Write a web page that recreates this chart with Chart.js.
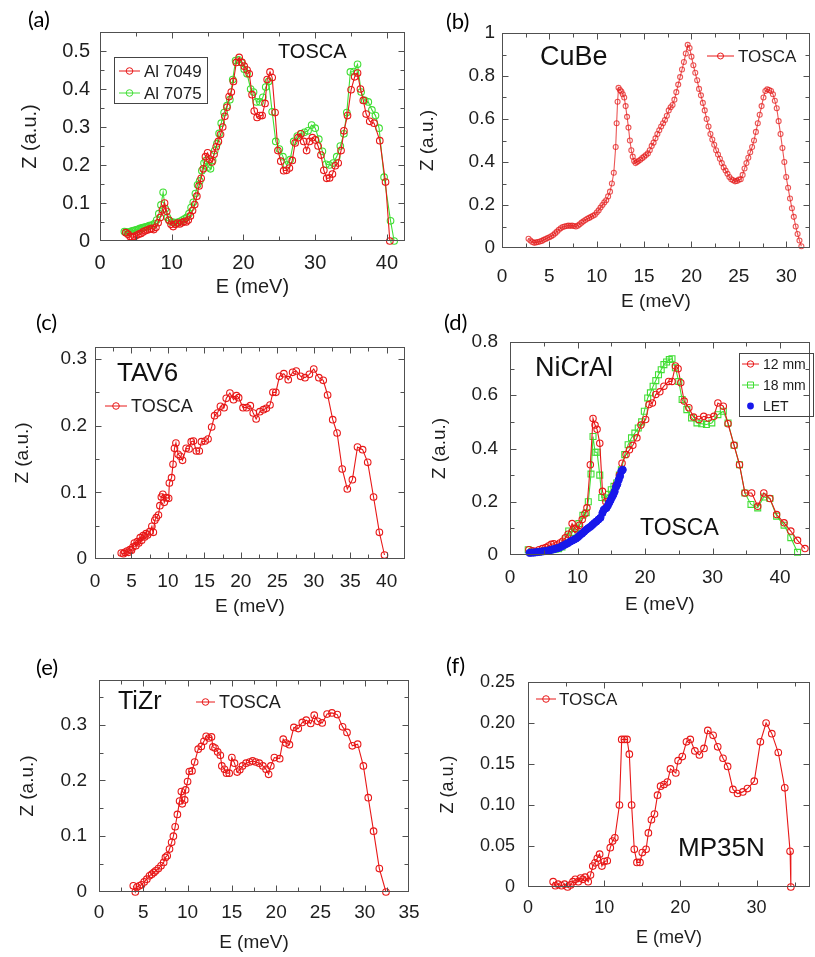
<!DOCTYPE html>
<html>
<head>
<meta charset="utf-8">
<script src="https://cdn.jsdelivr.net/npm/chart.js@4.4.0/dist/chart.umd.min.js"></script>
<style>
  body { margin: 0; background: #fff; width: 815px; height: 957px; position: relative; overflow: hidden; }
  canvas { position: absolute; }
  .tag { position: absolute; font-family: Lato, "Open Sans", sans-serif; font-size: 22px; line-height: 1; color: #000; }
</style>
</head>
<body>
<canvas id="pa" width="410" height="305" style="left:0px;top:0px"></canvas>
<canvas id="pb" width="405" height="315" style="left:410px;top:0px"></canvas>
<canvas id="pc" width="410" height="320" style="left:0px;top:305px"></canvas>
<canvas id="pd" width="405" height="320" style="left:410px;top:305px"></canvas>
<canvas id="pe" width="430" height="317" style="left:0px;top:640px"></canvas>
<canvas id="pf" width="385" height="317" style="left:430px;top:640px"></canvas>
<div class="tag" style="left:28px;top:8px">(a)</div>
<div class="tag" style="left:446px;top:10px">(b)</div>
<div class="tag" style="left:36px;top:311px">(c)</div>
<div class="tag" style="left:444px;top:311px">(d)</div>
<div class="tag" style="left:36px;top:656px">(e)</div>
<div class="tag" style="left:446px;top:654px">(f)</div>
<script>

// (a) Al alloys, TOSCA
var al7049E = [3.6,3.9,4.2,4.5,4.8,5.1,5.4,5.7,6.0,6.3,6.6,6.9,7.2,7.5,7.8,8.1,8.4,8.7,9.0,
  9.3,9.6,9.9,10.2,10.5,10.8,11.1,11.4,11.7,12.0,12.3,12.6,12.9,13.2,13.5,13.8,14.1,14.4,14.7,15.0,15.3,15.6,15.9,16.2,16.5,16.8,17.1,17.4,17.7,18.0,18.3,18.6,
  19.0,19.4,19.8,20.1,20.5,20.8,21.2,21.5,21.9,22.3,22.6,23.0,23.3,23.7,24.0,24.4,24.8,25.2,25.6,26.0,26.4,26.8,27.2,27.6,28.0,28.4,28.8,29.2,29.6,30.0,30.4,30.8,31.2,31.6,32.0,32.4,32.8,33.2,33.6,34.0,
  34.5,35.0,35.5,35.9,36.3,36.7,37.1,37.6,38.2,39.0,39.8,40.4];
var al7049Z = [.022,.018,.012,.010,.012,.015,.018,.020,.024,.027,.029,.031,.033,.030,.036,.048,.062,.082,.100,
  .078,.055,.044,.038,.044,.047,.045,.048,.051,.050,.055,.066,.080,.096,.118,.145,.165,.190,.222,.232,.215,.208,.228,.248,.262,.280,.300,.328,.352,.380,.392,.420,
  .470,.483,.470,.460,.450,.440,.385,.342,.325,.330,.330,.362,.425,.445,.430,.338,.238,.210,.185,.186,.192,.212,.258,.272,.282,.262,.238,.262,.272,.266,.250,.226,.186,.165,.166,.176,.198,.205,.238,.290,
  .330,.398,.432,.442,.400,.370,.334,.315,.310,.264,.155,0];
var al7075E = [3.4,3.6,3.8,4.0,4.2,4.4,4.6,4.8,5.0,5.2,5.4,5.6,5.8,6.0,6.2,6.4,6.6,6.8,7.0,
  7.3,7.6,7.9,8.2,8.5,8.8,9.1,9.4,9.7,10.0,10.3,10.6,10.9,11.2,11.5,11.8,12.1,12.4,12.7,13.0,13.3,13.6,13.9,14.2,14.5,14.8,15.1,15.4,15.7,16.0,16.3,16.6,16.9,
  17.3,17.7,18.1,18.5,18.9,19.3,19.7,20.1,20.5,
  21.0,21.4,21.8,22.3,22.7,23.1,23.5,24.0,
  24.5,25.0,25.5,26.0,26.5,27.0,27.5,28.0,28.5,29.0,29.5,30.0,30.5,31.0,31.5,32.0,32.5,33.0,33.5,34.0,
  34.4,34.9,35.4,35.9,36.4,36.9,37.4,37.9,38.4,38.9,39.6,40.5,41.0];
var al7075Z = [.025,.024,.023,.022,.024,.026,.027,.028,.029,.030,.031,.033,.034,.035,.036,.037,.038,.040,.041,
  .042,.046,.055,.072,.095,.128,.085,.062,.053,.050,.049,.048,.050,.052,.055,.058,.062,.072,.088,.102,.125,.148,.158,.185,.205,.212,.195,.190,.212,.238,.256,.283,.310,
  .338,.356,.372,.425,.475,.477,.470,.452,.440,
  .400,.392,.366,.366,.378,.405,.420,.340,
  .262,.242,.222,.200,.214,.262,.276,.282,.286,.290,.305,.297,.268,.236,.202,.200,.205,.222,.250,.282,
  .338,.445,.446,.465,.392,.370,.366,.345,.330,.297,.168,.053,0];

// (b) CuBe
var cubeE = [2.8,3.0,3.2,3.4,3.6,3.8,4.0,4.2,4.4,4.6,4.8,5.0,5.2,5.4,5.6,5.8,6.0,6.2,6.4,6.6,6.8,7.0,7.2,7.4,7.6,7.8,8.0,8.2,8.4,8.6,8.8,9.0,9.2,9.4,9.6,9.8,10.0,10.2,10.4,10.6,10.8,11.0,11.2,11.4,11.6,11.8,12.0,
  12.1,12.2,12.3,
  12.45,12.6,12.75,12.9,13.05,13.2,13.35,13.5,13.65,13.8,13.95,14.1,14.25,
  14.4,14.6,14.8,15.0,15.2,15.4,15.6,15.8,16.0,16.2,16.4,16.6,16.8,17.0,17.2,17.4,17.6,17.8,18.0,18.2,18.4,18.6,18.8,19.0,19.2,19.4,19.6,19.8,20.0,20.2,
  20.4,20.6,20.8,21.0,21.2,21.4,21.6,21.8,22.0,22.2,22.4,22.6,22.8,23.0,23.2,23.4,23.6,23.8,24.0,24.2,24.4,24.6,24.8,25.0,25.2,25.4,25.6,25.8,26.0,26.2,
  26.4,26.6,26.8,27.0,27.2,27.4,27.6,27.8,28.0,28.2,28.4,28.6,28.8,29.0,29.2,29.4,29.6,29.8,30.0,30.2,30.4,30.6,30.8,31.0,31.2,31.4,31.6];
var cubeZ = [.043,.035,.028,.024,.026,.028,.030,.033,.038,.042,.046,.050,.055,.060,.068,.076,.085,.092,.098,.100,.102,.104,.103,.104,.102,.100,.104,.110,.118,.124,.130,.136,.140,.145,.150,.155,.165,.175,.188,.200,.212,.222,.240,.262,.300,.350,.470,
  .580,.680,.745,
  .735,.728,.715,.700,.660,.610,.560,.500,.455,.425,.405,.395,.400,
  .405,.410,.418,.425,.432,.440,.455,.475,.490,.510,.530,.548,.565,.580,.595,.615,.640,.655,.665,.690,.725,.760,.795,.830,.865,.905,.945,.930,.890,.850,
  .815,.780,.740,.710,.675,.640,.600,.565,.530,.505,.480,.455,.435,.415,.395,.375,.360,.345,.330,.320,.315,.310,.312,.318,.320,.340,.370,.395,.420,.445,
  .470,.500,.540,.580,.620,.660,.700,.730,.738,.735,.730,.715,.685,.650,.590,.530,.465,.400,.330,.280,.230,.185,.145,.100,.065,.035,.008];

// (c) TAV6
var tav6E = [3.6,3.9,4.1,4.4,4.6,4.8,5.0,5.2,5.4,5.6,5.8,6.0,6.2,6.4,6.6,6.8,7.0,7.2,7.5,7.8,
  8.0,8.2,8.4,8.7,8.9,9.1,9.3,9.5,9.8,10.1,10.2,10.5,10.7,10.9,11.1,11.4,11.7,12.0,12.5,12.9,
  13.2,13.5,13.9,14.3,14.6,15.1,15.5,16.0,16.4,16.8,17.2,17.7,18.0,18.5,19.0,19.4,19.7,20.3,20.8,21.3,
  21.7,22.1,22.6,23.1,23.5,24.0,24.4,24.8,25.3,25.9,26.5,27.1,27.6,28.2,28.8,29.4,30.0,30.7,31.3,31.9,
  32.6,33.2,33.9,34.6,35.3,36.0,36.7,37.4,38.2,39.0,39.7];
var tav6Z = [.009,.008,.010,.012,.010,.014,.013,.018,.024,.020,.026,.024,.032,.028,.035,.033,.038,.036,.041,.049,
  .040,.058,.062,.066,.080,.093,.097,.085,.092,.091,.114,.122,.142,.166,.174,.157,.154,.148,.166,.165,
  .176,.177,.162,.162,.176,.177,.180,.198,.215,.219,.229,.227,.241,.249,.239,.245,.242,.227,.227,.230,
  .219,.210,.221,.224,.226,.231,.250,.250,.274,.278,.269,.280,.282,.274,.272,.277,.285,.272,.268,.246,
  .209,.189,.135,.105,.119,.168,.164,.145,.093,.040,.006];

// (d) NiCrAl
var ni12E = [2.8,3.3,3.8,4.3,4.8,5.3,5.7,6.1,6.5,7.0,7.4,7.8,8.2,8.6,9.2,9.6,9.9,10.3,10.7,11.1,
  11.4,11.9,12.3,12.6,12.9,13.3,13.7,14.2,14.6,15.1,15.7,16.2,16.6,17.2,17.7,18.2,18.8,19.4,20.1,20.6,
  21.1,21.6,22.2,22.8,23.5,24.0,24.5,24.9,25.3,25.8,26.5,27.2,28.0,28.7,29.4,30.2,30.8,31.6,32.3,33.2,
  34.0,34.8,35.8,36.7,37.6,38.5,39.5,40.6,41.6,42.6,43.7];
var ni12Z = [.020,.016,.014,.020,.024,.028,.034,.040,.042,.038,.045,.052,.065,.078,.118,.100,.095,.112,.133,.155,
  .177,.339,.513,.488,.472,.420,.239,.200,.195,.220,.262,.300,.345,.377,.395,.412,.440,.488,.509,.565,
  .571,.603,.613,.634,.652,.652,.710,.700,.647,.578,.553,.518,.509,.521,.515,.521,.571,.559,.493,.412,
  .339,.233,.233,.183,.233,.212,.152,.121,.090,.055,.024];
var ni18E = [2.7,3.2,3.7,4.2,4.7,5.2,5.7,6.2,6.7,7.2,7.7,8.2,8.7,9.2,9.7,10.2,10.8,11.3,11.6,12.0,
  12.3,12.6,12.9,13.3,13.6,14.1,14.6,15.0,15.4,15.8,16.2,16.5,17.0,17.5,18.0,18.5,19.0,19.5,19.9,20.4,
  20.8,21.2,21.6,22.0,22.4,22.8,23.2,23.6,24.0,24.5,25.0,25.5,26.2,26.9,27.7,28.4,29.1,29.9,30.8,31.6,
  32.3,33.2,34.0,34.8,35.7,36.7,37.6,38.5,39.5,40.6,41.6,42.6];
var ni18Z = [.020,.012,.010,.012,.014,.016,.018,.020,.022,.024,.030,.060,.090,.085,.100,.118,.149,.159,.200,.304,
  .445,.386,.386,.300,.216,.214,.228,.245,.258,.270,.300,.320,.377,.414,.440,.458,.477,.500,.540,.590,
  .609,.634,.655,.677,.696,.715,.725,.734,.737,.703,.652,.584,.546,.515,.496,.493,.490,.496,.527,.540,
  .496,.412,.339,.233,.190,.177,.218,.212,.146,.112,.065,.010];
var letE = [2.9,3.2,3.5,3.8,4.1,4.4,4.7,5.0,5.3,5.6,5.9,6.2,6.5,6.8,7.1,7.4,7.7,8.0,8.3,8.6,
  8.9,9.2,9.5,9.8,10.1,10.4,10.7,11.0,11.3,11.6,11.9,12.2,12.5,12.8,13.1,13.4,13.7,
  13.9,14.1,14.3,14.5,14.7,14.9,15.1,15.3,15.5,15.7,15.9,16.1,16.3,16.5,16.7];
var letZ = [.008,.009,.009,.010,.011,.012,.013,.014,.015,.016,.018,.020,.022,.024,.026,.029,.033,.037,.041,.045,
  .050,.054,.058,.062,.068,.075,.081,.088,.095,.101,.106,.113,.120,.126,.133,.140,.158,
  .170,.174,.177,.186,.196,.206,.217,.226,.238,.255,.266,.282,.296,.315,.320];

// (e) TiZr
var tizrE = [3.87,4.1,4.3,4.56,4.8,5.1,5.4,5.7,5.96,6.2,6.4,6.7,7.0,7.3,7.5,7.7,7.96,8.2,8.4,8.6,
  8.85,9.1,9.3,9.4,9.67,9.78,10.0,10.2,10.5,10.8,11.2,11.55,11.85,12.1,12.4,12.7,12.86,13.1,13.4,13.7,
  13.87,14.17,14.4,14.7,15.0,15.3,15.6,15.9,16.2,16.6,17.0,17.35,17.7,18.1,18.5,18.86,19.15,19.4,19.8,20.4,
  20.8,21.1,21.5,22.0,22.5,22.95,23.4,23.9,24.3,24.7,25.2,25.75,26.3,26.9,27.5,28.0,28.6,29.2,29.85,30.4,
  31.0,31.65,32.4];
var tizrZ = [.011,0,.009,.011,.013,.018,.023,.029,.032,.035,.038,.042,.047,.053,.062,.065,.077,.089,.100,.117,
  .139,.163,.180,.158,.165,.183,.198,.216,.217,.233,.256,.261,.270,.279,.276,.278,.260,.258,.251,.245,
  .226,.220,.213,.213,.241,.231,.215,.219,.226,.231,.233,.235,.233,.231,.226,.220,.211,.226,.241,.239,
  .274,.267,.264,.295,.293,.304,.308,.302,.317,.306,.303,.319,.321,.318,.296,.286,.262,.265,.226,.169,
  .109,.042,0];

// (f) MP35N
var mpE = [3.3,3.6,3.95,4.4,4.8,5.2,5.6,5.9,6.2,6.6,6.9,7.2,7.5,7.9,8.2,8.5,8.8,9.1,9.4,9.7,
  10.0,10.4,10.8,11.1,11.4,12.0,12.3,12.65,13.0,13.3,13.6,13.95,14.3,14.7,15.0,15.5,15.8,16.2,16.6,17.0,
  17.4,17.85,18.3,18.7,19.4,19.7,20.25,20.8,21.3,21.9,22.5,23.1,23.6,24.3,24.9,25.6,26.2,26.9,27.5,28.2,
  28.8,29.7,30.5,31.25,32.0,32.85,33.7,34.4,34.5];
var mpZ = [.0065,.0015,.0035,.0015,.0035,0,.0025,.0065,.0093,.0065,.011,.0093,.012,.0065,.0145,.0255,.0295,.035,.040,.0255,
  .031,.032,.048,.056,.060,.100,.180,.180,.180,.162,.100,.046,.030,.030,.042,.046,.066,.082,.089,.112,
  .123,.125,.128,.144,.139,.154,.159,.177,.180,.166,.161,.169,.191,.185,.171,.157,.147,.119,.114,.116,
  .120,.129,.177,.200,.187,.164,.121,.0435,0];

var RED = 'rgb(232,24,24)';
var RED_B = 'rgba(228,30,30,0.75)';
var GREEN = 'rgb(64,222,52)';
var BLUE = 'rgb(24,24,235)';
var SANS = '"Liberation Sans", Arial, Helvetica, sans-serif';
var INK = '#1e1e1e';

function pts(E, Z) {
    return E.map(function (e, i) { return {x: e, y: Z[i]}; });
}

function lineSet(E, Z, color, r, shape) {
    return {
        data: pts(E, Z),
        borderColor: color,
        borderWidth: 1.1,
        pointStyle: shape || 'circle',
        pointRadius: r,
        pointBorderColor: color,
        pointBackgroundColor: 'rgba(0,0,0,0)',
        pointBorderWidth: 1.1,
        tension: 0,
        fill: false,
        clip: false
    };
}

function marker(ctx, kind, x, y, color, r) {
    ctx.beginPath();
    if (kind === 'rect') {
        ctx.rect(x - r, y - r, 2 * r, 2 * r);
    } else {
        ctx.arc(x, y, r, 0, Math.PI * 2);
    }
    if (kind === 'dot') {
        ctx.fillStyle = color;
        ctx.fill();
    } else {
        ctx.strokeStyle = color;
        ctx.stroke();
    }
}

// frame, inward ticks, legend and labels drawn on top of the plot
function framePlugin(p) {
    return {
        id: 'frame',
        afterDatasetsDraw: function (chart) {
            var ctx = chart.ctx, a = chart.chartArea;
            var xs = chart.scales.x, ys = chart.scales.y;
            ctx.save();
            ctx.strokeStyle = '#505050';
            ctx.lineWidth = 1;
            var l = Math.round(a.left) + 0.5, t = Math.round(a.top) + 0.5;
            var r = Math.round(a.right) - 0.5, b = Math.round(a.bottom) - 0.5;
            ctx.strokeRect(l, t, r - l, b - t);
            ctx.beginPath();
            var i, v, px, len;
            for (i = 1; i * p.x.minor < p.x.max - 0.01; i++) {
                v = i * p.x.minor;
                len = Math.abs(v / p.x.step - Math.round(v / p.x.step)) < 1e-6 ? 6 : 4;
                px = Math.round(xs.getPixelForValue(v)) + 0.5;
                ctx.moveTo(px, b); ctx.lineTo(px, b - len);
                ctx.moveTo(px, t); ctx.lineTo(px, t + len);
            }
            for (i = 1; i * p.y.minor < p.y.max - 0.001; i++) {
                v = i * p.y.minor;
                len = Math.abs(v / p.y.step - Math.round(v / p.y.step)) < 1e-6 ? 6 : 4;
                px = Math.round(ys.getPixelForValue(v)) + 0.5;
                ctx.moveTo(l, px); ctx.lineTo(l + len, px);
                ctx.moveTo(r, px); ctx.lineTo(r - len, px);
            }
            ctx.stroke();

            var ox = p.L, oy = p.T;
            if (p.legendBox) {
                var lb = p.legendBox;
                ctx.strokeStyle = '#444';
                ctx.strokeRect(lb[0] - ox + 0.5, lb[1] - oy + 0.5, lb[2] - lb[0], lb[3] - lb[1]);
            }
            (p.legend || []).forEach(function (e) {
                var y = e.y - oy;
                if (e.kind !== 'dot') {
                    ctx.strokeStyle = e.color;
                    ctx.beginPath();
                    ctx.moveTo(e.x1 - ox, y); ctx.lineTo(e.x2 - ox, y);
                    ctx.stroke();
                }
                marker(ctx, e.kind, (e.x1 + e.x2) / 2 - ox, y, e.color, e.r);
                ctx.fillStyle = INK;
                ctx.font = e.size + 'px ' + SANS;
                ctx.textAlign = 'left';
                ctx.textBaseline = 'middle';
                ctx.fillText(e.text, e.tx - ox, y + 1);
            });
            (p.notes || []).forEach(function (n) {
                ctx.fillStyle = '#111';
                ctx.font = n.size + 'px ' + SANS;
                ctx.textAlign = 'left';
                ctx.textBaseline = 'alphabetic';
                ctx.fillText(n.text, n.x - ox, n.y - oy);
            });
            ctx.restore();
        }
    };
}

function makePanel(p, datasets) {
    var cv = document.getElementById(p.id);
    var W = cv.width, H = cv.height;
    var fs = p.fs;
    var yW = p.area[0] - p.L;
    var xH = p.T + H - p.area[3];
    new Chart(cv.getContext('2d'), {
        type: 'line',
        data: {datasets: datasets},
        options: {
            responsive: false,
            animation: false,
            events: [],
            layout: {padding: {left: 0, top: p.area[1] - p.T, right: p.L + W - p.area[2], bottom: 0}},
            plugins: {legend: {display: false}, tooltip: {enabled: false}},
            scales: {
                x: {
                    type: 'linear',
                    min: 0,
                    max: p.x.max,
                    grid: {display: false, drawTicks: false},
                    border: {display: false},
                    ticks: {
                        stepSize: p.x.step, includeBounds: false, autoSkip: false, maxRotation: 0,
                        font: {family: SANS, size: fs}, color: INK,
                        padding: p.xtick - p.area[3] - 0.6 * fs
                    },
                    title: {
                        display: true, text: 'E (meV)', color: INK,
                        font: {family: SANS, size: fs},
                        padding: {top: 0, bottom: p.T + H - p.xtitle - 0.6 * fs}
                    },
                    afterFit: function (s) { s.height = xH; }
                },
                y: {
                    min: 0,
                    max: p.y.max,
                    grid: {display: false, drawTicks: false},
                    border: {display: false},
                    ticks: {
                        stepSize: p.y.step, includeBounds: false, autoSkip: false,
                        font: {family: SANS, size: fs}, color: INK,
                        padding: p.area[0] - p.yright,
                        callback: p.yfmt || undefined
                    },
                    title: {
                        display: true, text: 'Z (a.u.)', color: INK,
                        font: {family: SANS, size: fs},
                        padding: {top: p.ytitle - p.L - 0.6 * fs, bottom: 0}
                    },
                    afterFit: function (s) { s.width = yW; }
                }
            }
        },
        plugins: [framePlugin(p)]
    });
}

makePanel({
    id: 'pa', L: 0, T: 0, area: [100, 32, 406, 241], fs: 20,
    xtick: 263, xtitle: 287, yright: 90, ytitle: 30,
    x: {max: 42.5, step: 10, minor: 5}, y: {max: 0.55, step: 0.1, minor: 0.05},
    legendBox: [114, 57, 207, 103],
    legend: [
        {y: 71, x1: 119, x2: 140, tx: 144, text: 'Al 7049', color: RED, kind: 'circle', r: 3.3, size: 17},
        {y: 93, x1: 119, x2: 140, tx: 144, text: 'Al 7075', color: GREEN, kind: 'circle', r: 3.3, size: 17}
    ],
    notes: [{text: 'TOSCA', x: 278, y: 58, size: 20}]
}, [
    lineSet(al7049E, al7049Z, RED, 3.3),
    lineSet(al7075E, al7075Z, GREEN, 3.3)
]);

makePanel({
    id: 'pb', L: 410, T: 0, area: [502, 33, 813, 248], fs: 19,
    xtick: 277, xtitle: 302, yright: 495, ytitle: 428,
    x: {max: 32.5, step: 5, minor: 2.5}, y: {max: 1, step: 0.2, minor: 0.1},
    legend: [{y: 56, x1: 707, x2: 734, tx: 738, text: 'TOSCA', color: RED, kind: 'circle', r: 3, size: 17}],
    notes: [{text: 'CuBe', x: 540, y: 65, size: 27}]
}, [
    lineSet(cubeE, cubeZ, RED_B, 2.5)
]);

makePanel({
    id: 'pc', L: 0, T: 305, area: [95, 347, 408, 559], fs: 19,
    xtick: 582, xtitle: 607, yright: 87, ytitle: 23,
    x: {max: 42.5, step: 5, minor: 2.5}, y: {max: 0.318, step: 0.1, minor: 0.05},
    legend: [{y: 406, x1: 105, x2: 127, tx: 131, text: 'TOSCA', color: RED, kind: 'circle', r: 3.3, size: 18}],
    notes: [{text: 'TAV6', x: 117, y: 381, size: 26}]
}, [
    lineSet(tav6E, tav6Z, RED, 3.3)
]);

var letSet = {
    data: pts(letE, letZ), showLine: false, pointStyle: 'circle', pointRadius: 3.6,
    pointBackgroundColor: BLUE, pointBorderColor: BLUE, borderColor: BLUE, clip: false, order: 0
};
var ni12Set = lineSet(ni12E, ni12Z, RED, 3.2);
ni12Set.order = 1;
var ni18Set = lineSet(ni18E, ni18Z, GREEN, 4.2, 'rect');
ni18Set.order = 2;

makePanel({
    id: 'pd', L: 410, T: 305, area: [510, 342, 814, 555], fs: 19,
    xtick: 578, xtitle: 605, yright: 498, ytitle: 440,
    x: {max: 44.4, step: 10, minor: 5}, y: {max: 0.8, step: 0.2, minor: 0.1},
    legendBox: [739, 353, 813, 416],
    legend: [
        {y: 364, x1: 742, x2: 759, tx: 763, text: '12 mm', color: RED, kind: 'circle', r: 3.2, size: 14},
        {y: 385, x1: 742, x2: 759, tx: 763, text: '18 mm', color: GREEN, kind: 'rect', r: 3, size: 14},
        {y: 406, x1: 742, x2: 759, tx: 763, text: 'LET', color: BLUE, kind: 'dot', r: 3.4, size: 14}
    ],
    notes: [{text: 'NiCrAl', x: 535, y: 376, size: 27}, {text: 'TOSCA', x: 640, y: 535, size: 23}]
}, [letSet, ni12Set, ni18Set]);

makePanel({
    id: 'pe', L: 0, T: 640, area: [99, 680, 409, 892], fs: 19,
    xtick: 913, xtitle: 943, yright: 87, ytitle: 28,
    x: {max: 35, step: 5, minor: 2.5}, y: {max: 0.38, step: 0.1, minor: 0.05},
    legend: [{y: 702, x1: 196, x2: 215, tx: 219, text: 'TOSCA', color: RED, kind: 'circle', r: 3.3, size: 18}],
    notes: [{text: 'TiZr', x: 118, y: 709, size: 25}]
}, [
    lineSet(tizrE, tizrZ, RED, 3.3)
]);

makePanel({
    id: 'pf', L: 430, T: 640, area: [528, 682, 813, 887], fs: 18,
    xtick: 908, xtitle: 938, yright: 515, ytitle: 448,
    x: {max: 37, step: 10, minor: 5}, y: {max: 0.25, step: 0.05, minor: 0.05},
    yfmt: function (v) { return v === 0 ? '0' : v.toFixed(2); },
    legend: [{y: 699, x1: 536, x2: 556, tx: 559, text: 'TOSCA', color: RED, kind: 'circle', r: 3.3, size: 17}],
    notes: [{text: 'MP35N', x: 678, y: 856, size: 26}]
}, [
    lineSet(mpE, mpZ, RED, 3.3)
]);

</script>
</body>
</html>
